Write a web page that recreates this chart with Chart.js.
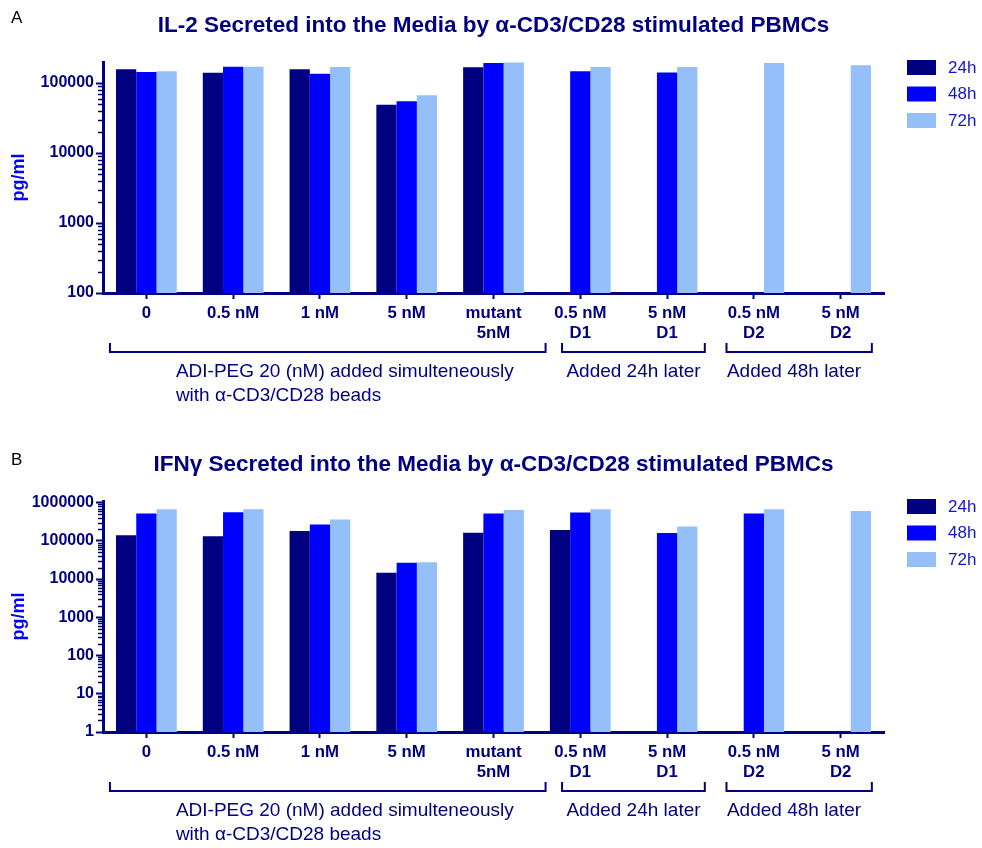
<!DOCTYPE html>
<html>
<head>
<meta charset="utf-8">
<title>IL-2 and IFNγ secreted by stimulated PBMCs</title>
<script src="https://cdn.jsdelivr.net/npm/chart.js@4.4.1/dist/chart.umd.min.js"></script>
<style>
    html, body { margin: 0; padding: 0; background: #fff; }
    .panel { position: relative; width: 982px; }
    canvas { display: block; }
</style>
</head>
<body>
<div class="panel"><canvas id="il2-chart" width="982" height="430"></canvas></div>
<div class="panel"><canvas id="ifn-chart" width="982" height="418"></canvas></div>

<script>
// Categories (x axis), two-line labels where the original has them
const categories = [
    ['0'], ['0.5 nM'], ['1 nM'], ['5 nM'], ['mutant', '5nM'],
    ['0.5 nM', 'D1'], ['5 nM', 'D1'], ['0.5 nM', 'D2'], ['5 nM', 'D2']
];
const seriesLabels = ['24h', '48h', '72h'];

// Panel A - IL-2 (pg/ml)
const il2_24h = [158000, 140000, 158000, 49000, 168000, null, null, null, null];
const il2_48h = [144000, 171000, 136000, 55000, 193000, 148000, 142000, null, null];
const il2_72h = [148000, 171000, 169000, 67000, 197000, 169000, 169000, 193000, 179000];

// Panel B - IFNy (pg/ml)
const ifn_24h = [139000, 131000, 180000, 14600, 162000, 191000, null, null, null];
const ifn_48h = [518000, 560000, 268000, 26500, 518000, 550000, 160000, 518000, null];
const ifn_72h = [670000, 670000, 361000, 27600, 643000, 670000, 238000, 670000, 605000];

// Labelled y ticks
const il2Ticks = [100, 1000, 10000, 100000];
const ifnTicks = [1, 10, 100, 1000, 10000, 100000, 1000000];

// Group brackets under the x axis
const groupTexts = [
    ['ADI-PEG 20 (nM) added simulteneously', 'with \u03b1-CD3/CD28 beads'],
    ['Added 24h later'],
    ['Added 48h later']
];

const NAVY = '#000080';
const BLUE = '#0000ff';
const LIGHT = '#94bff8';
const FONT = '"Liberation Sans", Arial, Helvetica, sans-serif';

// bracket ends / text start, in category units
const bracketLayout = [
    { from: -0.42, to: 4.6, text: 0.34 },
    { from: 4.79, to: 6.435, text: 4.84 },
    { from: 6.685, to: 8.36, text: 6.69 }
];

// Titles, brackets, legend and minor log ticks
const decorPlugin = {
    id: 'decor',
    afterDraw(chart, args, opts) {
        const ctx = chart.ctx;
        const area = chart.chartArea;
        const xs = chart.scales.x;
        const ys = chart.scales.y;
        ctx.save();

        // panel letter
        ctx.fillStyle = '#000';
        ctx.font = '17px ' + FONT;
        ctx.textAlign = 'left';
        ctx.textBaseline = 'middle';
        ctx.fillText(opts.letter, 11, opts.letterY);

        // title
        ctx.fillStyle = NAVY;
        ctx.font = 'bold 22.5px ' + FONT;
        ctx.textAlign = 'center';
        ctx.fillText(opts.title, (area.left + area.right) / 2, opts.titleY);

        // y title
        ctx.save();
        ctx.translate(19, (area.top + area.bottom) / 2);
        ctx.rotate(-Math.PI / 2);
        ctx.fillStyle = BLUE;
        ctx.font = 'bold 18px ' + FONT;
        ctx.fillText('pg/ml', 0, 0);
        ctx.restore();

        // minor ticks on the log axis
        ctx.strokeStyle = NAVY;
        ctx.lineWidth = 1.5;
        const e0 = Math.floor(Math.log10(ys.min));
        const e1 = Math.ceil(Math.log10(ys.max));
        for (let e = e0; e <= e1; e++) {
            for (let k = 2; k <= 9; k++) {
                const v = k * Math.pow(10, e);
                if (v <= ys.min || v >= ys.max) continue;
                const py = Math.round(ys.getPixelForValue(v)) + 0.5;
                ctx.beginPath();
                ctx.moveTo(area.left - 5, py);
                ctx.lineTo(area.left - 1, py);
                ctx.stroke();
            }
        }

        // brackets + group text
        const c0 = xs.getPixelForValue(0);
        const step = xs.getPixelForValue(1) - c0;
        const base = area.bottom;
        ctx.lineWidth = 2;
        ctx.font = '19px ' + FONT;
        ctx.textAlign = 'left';
        ctx.fillStyle = NAVY;
        bracketLayout.forEach((b, i) => {
            const xa = c0 + b.from * step;
            const xb = c0 + b.to * step;
            ctx.beginPath();
            ctx.moveTo(xa, base + 50);
            ctx.lineTo(xa, base + 59);
            ctx.lineTo(xb, base + 59);
            ctx.lineTo(xb, base + 50);
            ctx.stroke();
            groupTexts[i].forEach((line, j) => {
                ctx.fillText(line, c0 + b.text * step, base + 79 + j * 24);
            });
        });

        // legend
        const top = area.top - 2;
        chart.data.datasets.forEach((ds, i) => {
            const by = top + i * 26.5;
            ctx.fillStyle = ds.backgroundColor;
            ctx.fillRect(907, by, 29, 15);
            ctx.fillStyle = '#1414c8';
            ctx.font = '17px ' + FONT;
            ctx.fillText(ds.label, 948, by + 8);
        });

        ctx.restore();
    }
};

function makeChart(canvasId, s1, s2, s3, yMin, yMax, majorTicks, decor, padTop) {
    const canvas = document.getElementById(canvasId);
    const ctx = canvas.getContext('2d');
    const h = canvas.height;
    const axisBottom = padTop + 231;

    return new Chart(ctx, {
        type: 'bar',
        data: {
            labels: categories,
            datasets: [
                { label: seriesLabels[0], data: s1, backgroundColor: NAVY },
                { label: seriesLabels[1], data: s2, backgroundColor: BLUE },
                { label: seriesLabels[2], data: s3, backgroundColor: LIGHT }
            ]
        },
        options: {
            responsive: false,
            maintainAspectRatio: false,
            animation: false,
            categoryPercentage: 0.7,
            barPercentage: 1.0,
            layout: { padding: { top: padTop, right: 98, left: 0, bottom: 0 } },
            plugins: {
                legend: { display: false },
                title: { display: false },
                tooltip: { enabled: false },
                decor: decor
            },
            scales: {
                x: {
                    grid: {
                        display: true,
                        drawOnChartArea: false,
                        offset: false,
                        tickLength: 6,
                        tickWidth: 2,
                        color: NAVY,
                        tickColor: NAVY
                    },
                    border: { display: true, color: NAVY, width: 3 },
                    ticks: {
                        color: NAVY,
                        font: { family: FONT, size: 16.8, weight: 'bold', lineHeight: 1.2 },
                        padding: 4,
                        maxRotation: 0,
                        autoSkip: false
                    },
                    afterFit(scale) { scale.height = h - axisBottom; }
                },
                y: {
                    type: 'logarithmic',
                    min: yMin,
                    max: yMax,
                    grid: {
                        display: true,
                        drawOnChartArea: false,
                        tickLength: 7,
                        tickWidth: 2,
                        color: NAVY,
                        tickColor: NAVY
                    },
                    border: { display: true, color: NAVY, width: 3 },
                    ticks: {
                        color: NAVY,
                        font: { family: FONT, size: 16, weight: 'bold' },
                        padding: 2,
                        callback: value => String(value)
                    },
                    afterBuildTicks(scale) {
                        scale.ticks = majorTicks.map(v => ({ value: v }));
                    },
                    afterFit(scale) { scale.width = 103; }
                }
            }
        },
        plugins: [decorPlugin]
    });
}

document.addEventListener('DOMContentLoaded', () => {
    makeChart('il2-chart', il2_24h, il2_48h, il2_72h, 100, 200000, il2Ticks, {
        letter: 'A', letterY: 18, titleY: 26,
        title: 'IL-2 Secreted into the Media by \u03b1-CD3/CD28 stimulated PBMCs'
    }, 62);
    makeChart('ifn-chart', ifn_24h, ifn_48h, ifn_72h, 1, 1100000, ifnTicks, {
        letter: 'B', letterY: 30, titleY: 35,
        title: 'IFN\u03b3 Secreted into the Media by \u03b1-CD3/CD28 stimulated PBMCs'
    }, 71);
});
</script>
</body>
</html>
